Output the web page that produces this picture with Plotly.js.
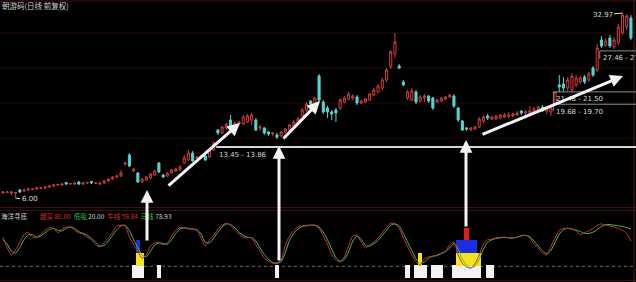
<!DOCTYPE html>
<html>
<head>
<meta charset="utf-8">
<script src="https://cdn.plot.ly/plotly-3.0.1.min.js"></script>
<style>
  html, body { margin: 0; padding: 0; background: #000; overflow: hidden; }
  #chart { width: 636px; height: 282px; }
</style>
</head>
<body>
<div id="chart"></div>
<script>
// ---- daily bars (forward-adjusted prices) ----
const openP = [
  6.75, 6.82, 6.75, 6.75, 7.19, 7.04, 7.19, 7.26, 7.33, 7.40,
  7.48, 7.62, 7.77, 7.91, 7.91, 8.28, 8.06, 8.06, 8.35, 8.06,
  8.21, 8.43, 8.13, 8.06, 8.21, 8.50, 8.79, 9.08, 9.23, 10.98,
  12.29, 9.96, 9.66, 8.35, 8.64, 8.94, 9.37, 11.12, 9.37, 9.23,
  9.66, 9.96, 10.10, 11.12, 11.56, 12.58, 11.85, 12.00, 12.14, 12.00,
  13.02, 15.93, 15.49, 16.22, 17.39, 16.66, 16.80, 16.80, 17.10, 17.39,
  17.39, 16.22, 16.22, 15.64, 15.35, 15.20, 15.06, 15.64, 15.93, 16.51,
  16.95, 17.97, 18.84, 20.15, 19.86, 23.80, 20.01, 19.13, 18.55, 18.84,
  19.13, 20.01, 20.45, 20.59, 20.74, 19.86, 20.01, 20.30, 21.03, 21.47,
  22.05, 23.21, 25.11, 27.00, 25.25, 22.92, 20.59, 20.30, 21.47, 20.15,
  20.59, 20.88, 20.59, 20.01, 20.15, 20.45, 20.74, 20.88, 19.13, 17.24,
  16.22, 15.93, 16.08, 16.37, 17.24, 17.97, 17.53, 17.53, 17.68, 17.82,
  17.97, 17.97, 18.11, 18.70, 18.41, 18.41, 18.55, 18.84, 19.28, 18.70,
  18.55, 19.71, 22.49, 22.63, 22.05, 21.76, 22.49, 22.92, 23.65, 23.21,
  24.96, 24.67, 29.04, 28.31, 29.33, 28.02, 28.61, 30.06, 30.94, 32.25
];
const highP = [
  7.04, 7.04, 7.04, 6.90, 7.33, 7.33, 7.48, 7.48, 7.62, 7.62,
  7.77, 7.91, 8.06, 8.06, 8.21, 8.35, 8.21, 8.35, 8.50, 8.35,
  8.35, 8.50, 8.35, 8.35, 8.64, 8.94, 9.23, 9.37, 10.10, 11.27,
  12.58, 10.39, 9.81, 8.94, 9.23, 9.66, 10.10, 11.27, 9.52, 9.81,
  10.25, 10.39, 10.83, 12.29, 13.02, 12.87, 12.14, 12.29, 12.29, 13.16,
  14.32, 16.08, 16.51, 16.95, 18.11, 17.10, 17.24, 18.11, 18.26, 18.41,
  17.68, 16.66, 16.37, 15.78, 15.64, 15.49, 15.78, 16.22, 16.80, 17.39,
  17.82, 19.13, 20.01, 20.30, 20.74, 24.09, 20.30, 19.42, 18.84, 19.13,
  20.59, 20.88, 21.47, 21.17, 21.03, 20.30, 20.59, 21.32, 22.05, 22.63,
  23.51, 24.96, 27.59, 30.06, 25.54, 23.21, 21.76, 22.05, 21.76, 21.03,
  21.17, 21.03, 20.74, 20.45, 20.74, 20.88, 21.17, 21.17, 19.28, 17.39,
  16.37, 16.37, 16.51, 17.82, 18.11, 18.26, 17.97, 18.11, 18.26, 18.41,
  18.55, 18.41, 18.70, 18.84, 18.84, 19.42, 19.28, 19.42, 19.57, 19.28,
  19.57, 21.61, 23.94, 23.65, 23.65, 24.23, 23.94, 23.80, 23.94, 24.38,
  25.25, 28.46, 29.62, 29.33, 29.77, 29.48, 31.37, 32.97, 32.83, 32.68
];
const lowP = [
  6.60, 6.75, 6.46, 6.00, 6.75, 6.90, 7.04, 7.19, 7.19, 7.33,
  7.33, 7.48, 7.62, 7.77, 7.77, 7.91, 7.91, 7.91, 7.91, 7.91,
  8.06, 8.06, 8.06, 7.91, 8.06, 8.35, 8.64, 8.94, 9.08, 10.68,
  10.54, 9.81, 8.21, 8.21, 8.50, 8.79, 9.23, 9.66, 8.94, 9.08,
  9.52, 9.81, 9.96, 10.98, 11.41, 11.27, 11.70, 11.85, 11.41, 11.85,
  12.87, 15.20, 15.35, 15.93, 16.22, 16.51, 16.66, 16.66, 16.95, 16.66,
  15.78, 15.78, 15.20, 15.06, 15.06, 14.62, 14.91, 15.49, 15.78, 16.37,
  16.80, 17.82, 18.55, 19.42, 19.71, 20.01, 18.26, 17.68, 17.39, 17.10,
  18.84, 19.86, 20.30, 20.30, 19.57, 19.71, 19.86, 20.15, 20.88, 21.32,
  21.76, 22.92, 24.81, 26.42, 24.81, 22.34, 20.30, 20.15, 19.71, 19.86,
  20.01, 19.86, 18.84, 19.86, 20.01, 20.30, 20.59, 19.13, 17.10, 15.78,
  15.78, 15.78, 15.93, 16.22, 16.95, 17.39, 17.39, 17.39, 17.53, 17.68,
  17.68, 17.82, 17.97, 18.11, 18.11, 18.26, 18.41, 18.70, 18.55, 18.26,
  17.97, 19.42, 21.47, 21.61, 21.61, 21.47, 22.19, 22.63, 22.63, 22.92,
  23.65, 24.38, 27.88, 28.02, 27.88, 27.73, 28.31, 29.77, 30.50, 29.04
];
const closeP = [
  6.90, 6.90, 6.90, 6.82, 6.90, 7.19, 7.33, 7.33, 7.48, 7.48,
  7.62, 7.77, 7.91, 7.99, 8.06, 8.06, 8.13, 8.21, 8.06, 8.21,
  8.28, 8.21, 8.21, 8.21, 8.50, 8.79, 9.08, 9.23, 9.66, 11.12,
  10.68, 10.25, 8.35, 8.79, 9.08, 9.52, 9.96, 9.81, 9.08, 9.66,
  10.10, 10.25, 10.54, 11.85, 12.58, 11.41, 12.00, 12.14, 11.56, 13.02,
  14.03, 15.49, 16.37, 16.80, 16.37, 16.95, 17.10, 17.82, 17.97, 18.11,
  15.93, 16.37, 15.49, 15.35, 15.49, 14.91, 15.64, 16.08, 16.66, 17.10,
  17.53, 18.84, 19.71, 19.71, 20.59, 20.30, 18.55, 18.55, 18.26, 18.41,
  20.30, 20.59, 21.17, 20.88, 19.86, 20.15, 20.45, 21.17, 21.76, 22.34,
  23.21, 24.67, 27.29, 28.75, 24.96, 22.49, 21.47, 21.61, 20.01, 20.74,
  20.88, 20.15, 19.13, 20.30, 20.59, 20.74, 21.03, 19.42, 17.39, 15.93,
  16.08, 16.22, 16.37, 17.53, 17.82, 17.68, 17.82, 17.97, 18.11, 18.11,
  18.11, 18.26, 18.41, 18.41, 18.55, 18.70, 18.99, 19.28, 18.70, 18.99,
  19.13, 21.47, 22.19, 22.05, 23.21, 23.80, 23.51, 23.51, 22.92, 24.09,
  23.94, 27.88, 28.17, 28.90, 28.17, 29.04, 30.94, 32.68, 32.54, 29.33
];
const dayIdx = closeP.map((_, i) => i);

// ---- oscillator lines (0-100) ----
const niuLine = [ // fast line, red
  66, 49, 38, 46, 58, 70, 74, 66, 66, 71,
  77, 81, 80, 73, 79, 82, 82, 77, 73, 71,
  66, 62, 54, 51, 57, 65, 74, 84, 85, 84,
  66, 54, 43, 33, 38, 52, 57, 58, 54, 57,
  68, 77, 81, 81, 79, 79, 77, 65, 52, 62,
  69, 79, 85, 88, 85, 77, 71, 66, 65, 65,
  54, 44, 33, 28, 25, 25, 30, 54, 68, 77,
  82, 84, 85, 85, 85, 80, 68, 55, 38, 30,
  27, 35, 52, 68, 69, 58, 49, 54, 58, 65,
  73, 82, 88, 87, 80, 65, 51, 38, 27, 22,
  32, 35, 36, 38, 41, 44, 54, 58, 38, 25,
  19, 17, 24, 38, 55, 62, 63, 65, 66, 66,
  65, 65, 66, 69, 69, 65, 55, 49, 41, 38,
  51, 65, 77, 80, 80, 79, 76, 70, 73, 76,
  80, 85, 87, 85, 84, 82, 80, 77, 72, 59.84
];
const maLine = [ // slow line, green
  62, 55, 44, 41, 50, 62, 70, 70, 66, 68,
  73, 78, 80, 77, 76, 80, 82, 80, 75, 72,
  69, 64, 58, 52, 53, 60, 69, 78, 84, 85,
  76, 62, 49, 38, 35, 44, 54, 57, 56, 55,
  62, 72, 79, 81, 80, 79, 78, 71, 58, 57,
  65, 74, 82, 87, 86, 81, 74, 69, 66, 65,
  60, 49, 39, 31, 26, 25, 27, 42, 61, 72,
  79, 83, 84, 85, 85, 82, 74, 62, 47, 34,
  28, 31, 43, 60, 68, 63, 53, 52, 56, 61,
  69, 77, 85, 87, 84, 72, 58, 45, 32, 25,
  27, 33, 36, 37, 40, 43, 49, 56, 47, 31,
  22, 18, 20, 31, 47, 58, 62, 64, 65, 66,
  65, 65, 66, 68, 69, 67, 60, 52, 45, 40,
  45, 58, 71, 78, 80, 79, 77, 75, 72, 72,
  74, 78, 83, 86, 86, 85, 84, 83, 81, 78.93
];

// ---- bottom-signal blocks: days and band [base, top] ----
const whiteDays  = [31, 32, 33, 37, 65, 96, 98, 99, 100, 102, 103, 104, 107, 108, 109, 110, 111, 112, 113, 115, 116];
const yellowDays = [32, 33, 99, 108, 109, 110, 111, 112, 113];
const blueDays   = [32, 108, 109, 110, 111, 112];
const redDays    = [110];
const whiteBand  = [2, 22];
const yellowBand = [20, 41];
const blueBand   = [41, 62];
const redBand    = [62, 81];

// ---- price boxes: low, high, first day ----
const boxLow   = [13.45, 19.68, 21.48, 27.46];
const boxHigh  = [13.86, 19.70, 21.50, 27.98];
const boxStart = [51, 131, 131, 142];

const legendVals = { overbought: 80.00, lowBuy: 20.00 };
const lowMark = { day: 3, price: 6.00 };
const highMark = { day: 147, price: 32.97 };

const W = 636, H = 282;
const CJK = "'Noto Sans CJK SC', 'DejaVu Sans', sans-serif";
const py = v => 1 - v / H;   // pixel row -> paper fraction
const px = v => v / W;

function band(days, b, color) {
  return {
    type: 'bar', x: days, y: days.map(() => b[1] - b[0]), base: days.map(() => b[0]),
    xaxis: 'x', yaxis: 'y2', width: 1, marker: { color: color, line: { width: 0 } },
    hoverinfo: 'skip'
  };
}

const traces = [
  {
    type: 'candlestick', x: dayIdx, open: openP, high: highP, low: lowP, close: closeP,
    xaxis: 'x', yaxis: 'y',
    increasing: { line: { color: '#d43c3c', width: 1 }, fillcolor: '#000' },
    decreasing: { line: { color: '#56d4d4', width: 1 }, fillcolor: '#56d4d4' },
    whiskerwidth: 0, hoverinfo: 'skip'
  },
  band(whiteDays, whiteBand, '#f2f2f2'),
  band(yellowDays, yellowBand, '#f2e41e'),
  band(blueDays, blueBand, '#1a2fe0'),
  band(redDays, redBand, '#e01c1c'),
  { type: 'scatter', mode: 'lines', x: dayIdx, y: maLine, xaxis: 'x', yaxis: 'y2',
    line: { color: '#4cc24c', width: 1, shape: 'spline', smoothing: 0.6 }, hoverinfo: 'skip' },
  { type: 'scatter', mode: 'lines', x: dayIdx, y: niuLine, xaxis: 'x', yaxis: 'y2',
    line: { color: '#cc3434', width: 1, shape: 'spline', smoothing: 0.6 }, hoverinfo: 'skip' }
];

const gridRows = [33, 68, 103, 138];
const shapes = [];
gridRows.forEach(r => shapes.push({ type: 'line', xref: 'paper', yref: 'paper', x0: 0, x1: 1,
  y0: py(r), y1: py(r), line: { color: '#280808', width: 1 }, layer: 'below' }));
[1, 207.5, 210.5, 280.5].forEach(r => shapes.push({ type: 'line', xref: 'paper', yref: 'paper',
  x0: 0, x1: 1, y0: py(r), y1: py(r), line: { color: '#3c1010', width: 1 }, layer: 'below' }));
shapes.push({ type: 'line', xref: 'paper', yref: 'paper', x0: px(634), x1: px(634), y0: 0, y1: 1,
  line: { color: '#5a1414', width: 1 } });
// 20 line of the oscillator
shapes.push({ type: 'line', xref: 'paper', yref: 'y2', x0: 0, x1: 1, y0: legendVals.lowBuy, y1: legendVals.lowBuy,
  line: { color: '#6a6a6a', width: 1, dash: 'dot' }, layer: 'below' });
// price-box levels
boxLow.forEach((lv, k) => {
  shapes.push({ type: 'line', xref: 'x', yref: 'y', x0: boxStart[k] - 0.4, x1: 152, y0: lv, y1: lv,
    line: { color: k === 0 ? '#d6d6d6' : '#8a8a8a', width: k === 0 ? 2 : 1 } });
});
shapes.push({ type: 'line', xref: 'x', yref: 'y', x0: boxStart[1] - 0.4, x1: boxStart[1] - 0.4,
  y0: boxLow[2], y1: 18.7, line: { color: '#8a8a8a', width: 1 } });
shapes.push({ type: 'line', xref: 'x', yref: 'y', x0: boxStart[3] - 0.4, x1: boxStart[3] - 0.4,
  y0: boxLow[3], y1: 26.3, line: { color: '#8a8a8a', width: 1 } });

const annotations = [
  { text: '朝游码(日线 前复权)', xref: 'paper', yref: 'paper', x: 0, y: py(5.5), xanchor: 'left', yanchor: 'middle',
    showarrow: false, font: { family: CJK, size: 7.5, color: '#cfcfcf' } },
  { text: '海洋寻底', xref: 'paper', yref: 'paper', x: px(-1), y: py(215.5), xanchor: 'left', yanchor: 'middle',
    showarrow: false, font: { family: CJK, size: 6.5, color: '#cfcfcf' } },
  { text: "<span style='color:#d83030'>超买 " + legendVals.overbought.toFixed(2) + "</span>  " +
          "<span style='color:#3fbf3f'>低吸</span> " + legendVals.lowBuy.toFixed(2) + "  " +
          "<span style='color:#d83030'>牛线 " + niuLine[niuLine.length - 1].toFixed(2) + "</span>  " +
          "<span style='color:#3fbf3f'>马线</span> " + maLine[maLine.length - 1].toFixed(2),
    xref: 'paper', yref: 'paper', x: px(38), y: py(215.5), xanchor: 'left', yanchor: 'middle',
    showarrow: false, font: { family: CJK, size: 6.5, color: '#cfcfcf' } },
  { text: '6.00', xref: 'x', yref: 'y', x: lowMark.day, y: lowMark.price, ax: 14, ay: 1,
    showarrow: true, arrowhead: 0, arrowwidth: 1, arrowcolor: '#dcdcdc', standoff: 0,
    font: { family: 'DejaVu Sans', size: 7, color: '#dcdcdc' } },
  { text: highMark.price.toFixed(2), xref: 'x', yref: 'y', x: highMark.day, y: highMark.price, ax: -20, ay: 2,
    showarrow: true, arrowhead: 0, arrowwidth: 1, arrowcolor: '#dcdcdc', standoff: 0,
    font: { family: 'DejaVu Sans', size: 7, color: '#dcdcdc' } }
];
boxLow.forEach((lv, k) => {
  annotations.push({ text: lv.toFixed(2) + ' - ' + boxHigh[k].toFixed(2), xref: 'x', yref: 'y',
    x: boxStart[k] - 0.2, y: lv, xanchor: 'left', yanchor: 'top', yshift: -1.5, showarrow: false,
    font: { family: 'DejaVu Sans', size: 7, color: '#d8d8d8' } });
});

// white guide arrows: [tipX, tipY, tailX, tailY] in px
const arrows = [
  [147, 190, 147, 242],
  [279, 146, 279, 262],
  [466, 140, 466, 228],
  [240, 123, 167, 187],
  [320, 101, 282, 140],
  [623, 76, 481, 135]
];
arrows.forEach(a => annotations.push({
  text: '', xref: 'paper', yref: 'paper', x: px(a[0]), y: py(a[1]),
  axref: 'pixel', ayref: 'pixel', ax: a[2] - a[0], ay: a[3] - a[1],
  showarrow: true, arrowhead: 2, arrowsize: 0.85, arrowwidth: 3, arrowcolor: '#f4f4f4', standoff: 0
}));

const layout = {
  width: W, height: H, margin: { l: 0, r: 0, t: 0, b: 0 },
  paper_bgcolor: '#000', plot_bgcolor: '#000', showlegend: false,
  barmode: 'overlay', bargap: 0,
  xaxis: { range: [-0.71, 150.2], visible: false, rangeslider: { visible: false }, fixedrange: true },
  yaxis: { domain: [1 - 207 / H, 1], range: [4.71, 34.87], visible: false, fixedrange: true },
  yaxis2: { domain: [0, 73 / H], range: [-4.74, 110.6], visible: false, fixedrange: true, anchor: 'x' },
  shapes: shapes, annotations: annotations
};

Plotly.newPlot('chart', traces, layout, { staticPlot: true, displayModeBar: false });
</script>
</body>
</html>
